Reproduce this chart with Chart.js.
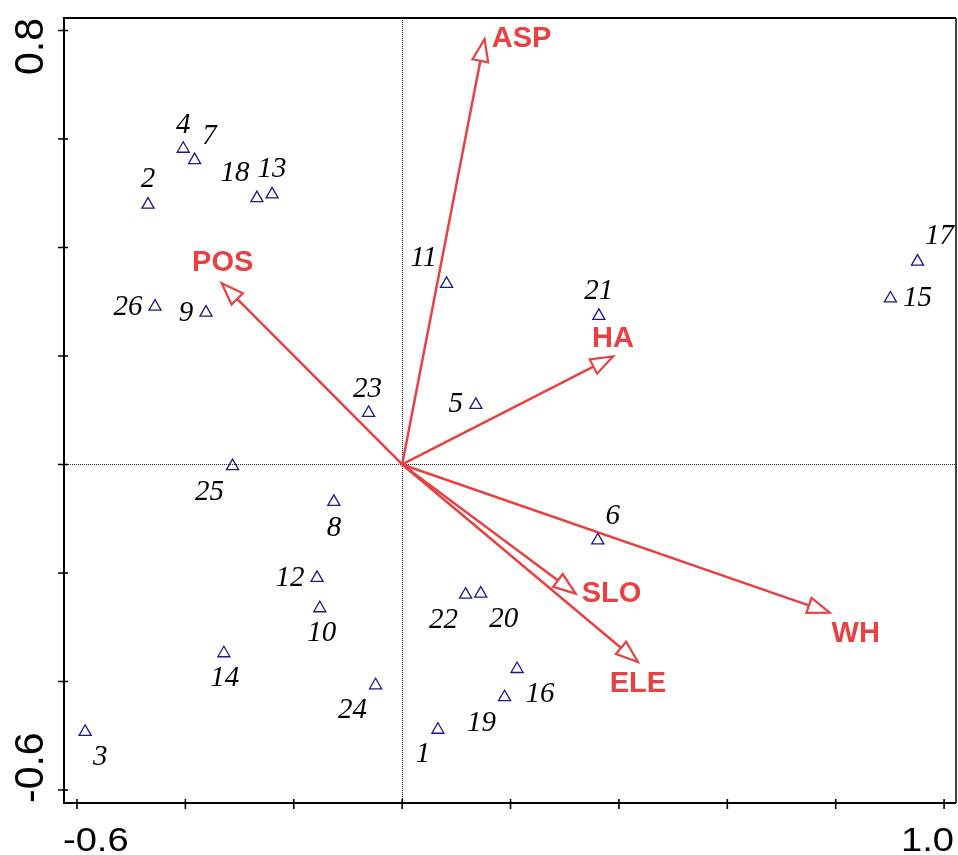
<!DOCTYPE html>
<html>
<head>
<meta charset="utf-8">
<script src="https://cdn.jsdelivr.net/npm/chart.js@4/dist/chart.umd.min.js"></script>
<style>
  html, body { margin: 0; padding: 0; background: #ffffff; overflow: hidden; }
  #ord { display: block; }
</style>
</head>
<body>
<canvas id="ord" width="958" height="855"></canvas>
<script>
// Sample sites (axis 1 / axis 2 scores)
const siteIds = ['1','2','3','4','5','6','7','8','9','10','11','12','13',
                 '14','15','16','17','18','19','20','21','22','23','24','25','26'];
const siteX = [0.066, -0.469, -0.585, -0.404, 0.136, 0.361, -0.383, -0.126, -0.362, -0.152,
               0.082, -0.157, -0.240, -0.329, 0.901, 0.212, 0.951, -0.268, 0.189, 0.145,
               0.363, 0.117, -0.062, -0.049, -0.313, -0.456];
const siteY = [-0.489, 0.479, -0.493, 0.582, 0.110, -0.140, 0.561, -0.069, 0.280, -0.265,
               0.333, -0.209, 0.498, -0.348, 0.306, -0.377, 0.374, 0.491, -0.429, -0.238,
               0.274, -0.240, 0.095, -0.407, -0.003, 0.291];

// Environmental variables (biplot arrow tips)
const envNames = ['ASP', 'POS', 'HA', 'SLO', 'ELE', 'WH'];
const envX = [0.152, -0.333, 0.389, 0.320, 0.435, 0.789];
const envY = [0.784, 0.334, 0.199, -0.238, -0.364, -0.273];

// Axis ticks
const xTickValues = [-0.6, -0.4, -0.2, 0.0, 0.2, 0.4, 0.6, 0.8, 1.0];
const yTickValues = [-0.6, -0.4, -0.2, 0.0, 0.2, 0.4, 0.6, 0.8];
const xTickLabels = ['-0.6', '1.0'];
const yTickLabels = ['-0.6', '0.8'];
const axisRange = { xMin: -0.624, xMax: 1.022, yMin: -0.624, yMax: 0.823 };

// Label placement (pixel offsets from each mark)
const siteLabelOffset = [
  [-15, 25], [0, -25], [15, 25], [0, -23], [-20, 0], [15, -24], [15, -24], [0, 26],
  [-20, 1], [2, 25.5], [-23, -25], [-27, 0.5], [0, -24.5], [1, 25.5], [27, 0], [23, 25],
  [22, -25], [-22, -25], [-23, 26.5], [23, 26], [0, -24.5], [-22, 26], [-1, -23.5],
  [-23, 25], [-23, 26], [-27, 1]
];
const envLabelOffset = [[37, 0], [1, -20], [0, -18], [36, 0], [0, 22], [26, 21]];

const SITE_COLOR = '#1a1a8c';
const ARROW_COLOR = '#e84141';

const datasets = [{
  label: 'sites',
  data: siteX.map((x, i) => ({ x: x, y: siteY[i] })),
  pointStyle: 'triangle',
  pointRadius: 7,
  pointBorderWidth: 1.3,
  pointBorderColor: SITE_COLOR,
  pointBackgroundColor: 'rgba(0,0,0,0)',
  showLine: false
}];
envNames.forEach((name, i) => {
  datasets.push({
    label: name,
    data: [{ x: 0, y: 0 }, { x: envX[i], y: envY[i] }],
    showLine: true,
    borderColor: ARROW_COLOR,
    borderWidth: 2.5,
    pointRadius: 0
  });
});

const decor = {
  id: 'decor',
  beforeDatasetsDraw(chart) {
    const { ctx, chartArea: a, scales: { x: xs, y: ys } } = chart;
    const x0 = xs.getPixelForValue(0), y0 = ys.getPixelForValue(0);
    ctx.save();
    ctx.strokeStyle = '#222';
    ctx.lineWidth = 1;
    ctx.setLineDash([1, 1]);
    ctx.beginPath();
    ctx.moveTo(Math.round(x0) + 0.5, a.top);
    ctx.lineTo(Math.round(x0) + 0.5, a.bottom);
    ctx.moveTo(a.left, Math.round(y0) + 0.5);
    ctx.lineTo(a.right, Math.round(y0) + 0.5);
    ctx.stroke();
    ctx.restore();
  },
  afterDatasetsDraw(chart) {
    const { ctx, chartArea: a, scales: { x: xs, y: ys } } = chart;
    const x0 = xs.getPixelForValue(0), y0 = ys.getPixelForValue(0);
    ctx.save();

    // open arrowheads
    envNames.forEach((name, i) => {
      const tx = xs.getPixelForValue(envX[i]), ty = ys.getPixelForValue(envY[i]);
      const dx = tx - x0, dy = ty - y0, len = Math.hypot(dx, dy);
      const ux = dx / len, uy = dy / len, nx = -uy, ny = ux;
      const bx = tx - ux * 22, by = ty - uy * 22;
      ctx.beginPath();
      ctx.moveTo(tx, ty);
      ctx.lineTo(bx + nx * 8, by + ny * 8);
      ctx.lineTo(bx - nx * 8, by - ny * 8);
      ctx.closePath();
      ctx.fillStyle = '#ffffff';
      ctx.fill();
      ctx.strokeStyle = ARROW_COLOR;
      ctx.lineWidth = 2.2;
      ctx.lineJoin = 'miter';
      ctx.stroke();
      ctx.fillStyle = ARROW_COLOR;
      ctx.font = 'bold 29px "Liberation Sans", Arial, sans-serif';
      ctx.textAlign = 'center';
      ctx.textBaseline = 'middle';
      ctx.fillText(name, tx + envLabelOffset[i][0], ty + envLabelOffset[i][1]);
    });

    // site numbers
    ctx.fillStyle = '#000';
    ctx.font = 'italic 29px "Liberation Serif", "Times New Roman", serif';
    ctx.textAlign = 'center';
    ctx.textBaseline = 'middle';
    siteIds.forEach((id, i) => {
      const px = xs.getPixelForValue(siteX[i]), py = ys.getPixelForValue(siteY[i]);
      ctx.fillText(id, px + siteLabelOffset[i][0], py + siteLabelOffset[i][1]);
    });

    // frame
    ctx.strokeStyle = '#000';
    ctx.lineWidth = 2;
    ctx.beginPath();
    ctx.moveTo(a.right, a.top);
    ctx.lineTo(a.left, a.top);
    ctx.lineTo(a.left, a.bottom);
    ctx.lineTo(a.right, a.bottom);
    ctx.stroke();
    ctx.lineWidth = 1.5;
    ctx.beginPath();
    ctx.moveTo(a.right, a.top);
    ctx.lineTo(a.right, a.bottom);
    ctx.stroke();

    // tick marks
    ctx.lineWidth = 1.6;
    ctx.beginPath();
    xTickValues.forEach(v => {
      const px = xs.getPixelForValue(v);
      ctx.moveTo(px, a.bottom - 4);
      ctx.lineTo(px, a.bottom + 6);
    });
    yTickValues.forEach(v => {
      const py = ys.getPixelForValue(v);
      ctx.moveTo(a.left - 6, py);
      ctx.lineTo(a.left + 4, py);
    });
    ctx.stroke();

    // tick labels: end labels aligned inward to the plot edges
    ctx.fillStyle = '#000';
    ctx.textBaseline = 'alphabetic';
    ctx.font = '34px "Liberation Sans", Arial, sans-serif';
    xTickLabels.forEach((t, i) => {
      const first = i === 0;
      ctx.save();
      ctx.translate(first ? a.left - 1 : a.right - 2, a.bottom + 48);
      ctx.scale(1.12, 1);
      ctx.textAlign = first ? 'left' : 'right';
      ctx.fillText(t, 0, 0);
      ctx.restore();
    });
    ctx.font = '41px "Liberation Sans", Arial, sans-serif';
    yTickLabels.forEach((t, i) => {
      const first = i === 0;
      ctx.save();
      ctx.translate(a.left - 21, first ? a.bottom : a.top);
      ctx.rotate(-Math.PI / 2);
      ctx.textAlign = first ? 'left' : 'right';
      ctx.fillText(t, 0, 0);
      ctx.restore();
    });

    ctx.restore();
  }
};

new Chart(document.getElementById('ord'), {
  type: 'scatter',
  data: { datasets: datasets },
  options: {
    responsive: false,
    animation: false,
    events: [],
    layout: { autoPadding: false, padding: { left: 64, top: 18, right: 2, bottom: 52 } },
    plugins: { legend: { display: false }, tooltip: { enabled: false } },
    scales: {
      x: { type: 'linear', display: false, min: axisRange.xMin, max: axisRange.xMax },
      y: { type: 'linear', display: false, min: axisRange.yMin, max: axisRange.yMax }
    }
  },
  plugins: [decor]
});
</script>
</body>
</html>
